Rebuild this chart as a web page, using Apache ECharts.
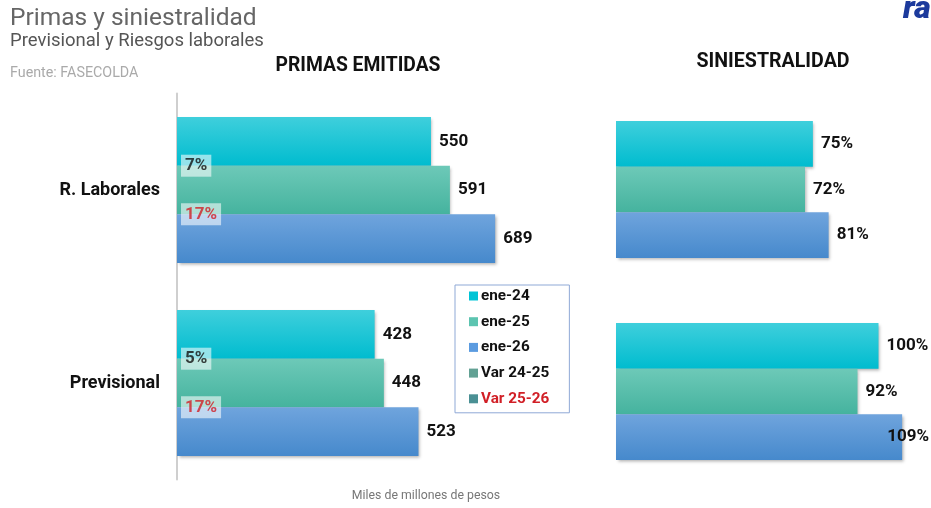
<!DOCTYPE html>
<html><head><meta charset="utf-8">
<script src="https://cdn.jsdelivr.net/npm/echarts@6/dist/echarts.min.js"></script>
<style>html,body{margin:0;padding:0;background:#fff}#c{width:931px;height:508px}</style>
</head><body><div id="c"></div>
<script>
const categories = ['R. Laborales', 'Previsional'];
const seriesNames = ['ene-24', 'ene-25', 'ene-26'];
const primas = {
  'ene-24': [550, 428],
  'ene-25': [591, 448],
  'ene-26': [689, 523]
};
const siniestralidad = {
  'ene-24': [75, 100],
  'ene-25': [72, 92],
  'ene-26': [81, 109]
};
const var2425 = [7, 5];
const var2526 = [17, 17];

const colors = {
  'ene-24': ['#3fcfdc', '#00bccf'],
  'ene-25': ['#6dc9b8', '#45b39e'],
  'ene-26': ['#6fa4dd', '#4689cc']
};
const legendColors = {'ene-24': '#00c4d6', 'ene-25': '#5cc4b0', 'ene-26': '#5b9be0', 'Var 24-25': '#3b8a79', 'Var 25-26': '#1d7479'};
const FONT = 'Roboto';

function grad(n) {
  return new echarts.graphic.LinearGradient(0, 0, 0, 1, [
    {offset: 0, color: colors[n][0]}, {offset: 1, color: colors[n][1]}
  ]);
}
const labelStyle = {show: true, position: 'right', distance: 8, color: '#111', fontFamily: FONT, fontWeight: 'bold', fontSize: 17};
const shadow = {shadowBlur: 3, shadowColor: 'rgba(0,0,0,0.3)', shadowOffsetX: 1.5, shadowOffsetY: 2};

const series = [];
seriesNames.forEach(n => {
  series.push({
    name: n, type: 'bar', xAxisIndex: 0, yAxisIndex: 0, barWidth: 48.7, barGap: '0%',
    data: primas[n], itemStyle: Object.assign({color: grad(n)}, shadow),
    label: Object.assign({}, labelStyle), z: 2
  });
});
seriesNames.forEach(n => {
  series.push({
    name: n, type: 'bar', xAxisIndex: 1, yAxisIndex: 1, barWidth: 45.7, barGap: '0%',
    data: siniestralidad[n].map(v => ({
      value: v,
      label: v > 105 ? {offset: [-23, 0]} : {}
    })),
    itemStyle: Object.assign({color: grad(n)}, shadow),
    label: Object.assign({}, labelStyle, {formatter: '{c}%'}), z: 2
  });
});
function varSeries(name, arr, dy, txtColor) {
  return {
    name: name, type: 'scatter', xAxisIndex: 0, yAxisIndex: 0, symbolSize: 0,
    itemStyle: {color: legendColors[name]}, z: 10,
    data: arr.map((v, i) => [0, categories[i], v]),
    label: {
      show: true, position: 'right', distance: 4, offset: [0, dy],
      formatter: p => p.value[2] + '%',
      color: txtColor, fontFamily: FONT, fontWeight: 'bold', fontSize: 17,
      backgroundColor: 'rgba(255,255,255,0.72)', padding: [3, 4, 2, 4]
    }
  };
}
series.push(varSeries('Var 24-25', var2425, -24.3, '#111'));
series.push(varSeries('Var 25-26', var2526, 24.3, '#d11f26'));

const option = {
  animation: false,
  grid: [
    {left: 177, top: 93.5, height: 386, width: 369.4},
    {left: 616, top: 88.5, height: 404, width: 315.2}
  ],
  xAxis: [
    {gridIndex: 0, type: 'value', min: 0, max: 800, show: false},
    {gridIndex: 1, type: 'value', min: 0, max: 120, show: false}
  ],
  yAxis: [
    {gridIndex: 0, type: 'category', data: categories, inverse: true,
     axisLine: {show: true, lineStyle: {color: '#cfcfcf', width: 2}}, axisTick: {show: false},
     axisLabel: {margin: 17, color: '#111', fontFamily: FONT, fontWeight: 'bold', fontSize: 18}},
    {gridIndex: 1, type: 'category', data: categories, inverse: true, show: false}
  ],
  legend: {
    orient: 'vertical', left: 455, top: 285, icon: 'rect', itemWidth: 9, itemHeight: 9,
    itemGap: 9.7, borderColor: '#8fa9d6', borderWidth: 1, padding: [3, 20, 6, 14],
    textStyle: {color: '#111', fontFamily: FONT, fontWeight: 'bold', fontSize: 15.3, lineHeight: 16, padding: [0, 0, 0, -2]},
    data: [
      {name: 'ene-24', itemStyle: {color: legendColors['ene-24']}},
      {name: 'ene-25', itemStyle: {color: legendColors['ene-25']}},
      {name: 'ene-26', itemStyle: {color: legendColors['ene-26']}},
      {name: 'Var 24-25', itemStyle: {color: legendColors['Var 24-25']}},
      {name: 'Var 25-26', itemStyle: {color: legendColors['Var 25-26']}, textStyle: {color: '#d11f26'}}
    ]
  },
  graphic: [
    {type: 'text', left: 10, top: 6, style: {text: 'Primas y siniestralidad', font: '24.5px Roboto', fill: '#666'}},
    {type: 'text', left: 10, top: 32, style: {text: 'Previsional y Riesgos laborales', font: '18.5px Roboto', fill: '#555'}},
    {type: 'text', left: 10, top: 66, style: {text: 'Fuente: FASECOLDA', font: '14.3px Roboto', fill: '#aaa'}},
    {type: 'text', x: 358, y: 66, style: {text: 'PRIMAS EMITIDAS', font: 'bold 19.3px Roboto', fill: '#111', align: 'center', verticalAlign: 'middle'}},
    {type: 'text', x: 773, y: 62, style: {text: 'SINIESTRALIDAD', font: 'bold 19.6px Roboto', fill: '#111', align: 'center', verticalAlign: 'middle'}},
    {type: 'text', x: 426, y: 496, style: {text: 'Miles de millones de pesos', font: '12.3px Roboto', fill: '#777', align: 'center', verticalAlign: 'middle'}},
    {type: 'text', x: 903, y: -6, style: {text: 'ra', font: 'italic 900 32px Roboto', fill: '#1c3a9c'}}
  ],
  series: series
};
const chart = echarts.init(document.getElementById('c'));
chart.setOption(option);
</script></body></html>
